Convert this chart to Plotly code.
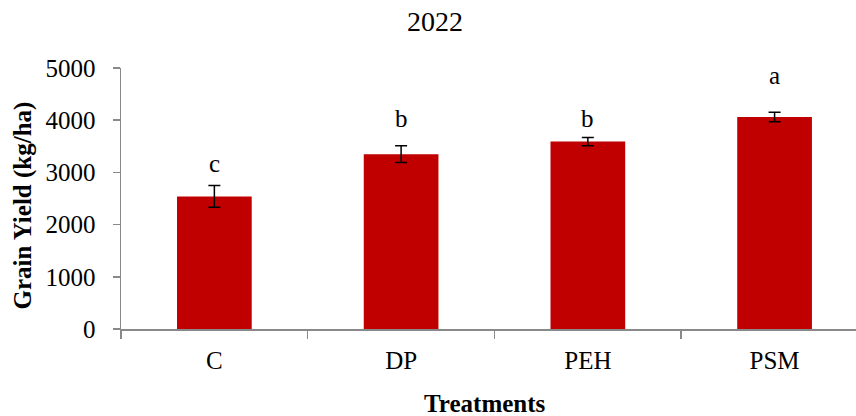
import plotly.graph_objects as go

categories = ["C", "DP", "PEH", "PSM"]
yields = [2540, 3350, 3590, 4060]
errors = [210, 160, 80, 90]
letters = ["c", "b", "b", "a"]
letter_y = [3180, 4040, 4040, 4850]
y_ticks = [0, 1000, 2000, 3000, 4000, 5000]

FONT = "Liberation Serif, Times New Roman, serif"
AXIS_GRAY = "#898989"

L, R, T, B = 121, 0, 68, 87
W, H = 856, 416
PW, PH = W - L - R, H - T - B

fig = go.Figure()
fig.add_trace(go.Bar(
    x=categories,
    y=yields,
    width=0.4,
    marker=dict(color="#C00000", line=dict(width=0)),
    error_y=dict(type="data", array=errors, visible=True, color="black",
                 thickness=1.5, width=6),
))

for cat, lt, ly in zip(categories, letters, letter_y):
    fig.add_annotation(x=cat, y=ly, text=lt, showarrow=False,
                       font=dict(family=FONT, size=25, color="black"))

# axis titles
fig.add_annotation(xref="paper", yref="paper",
                   x=(484.5 - L) / PW, y=(T + PH - 403) / PH,
                   text="<b>Treatments</b>", showarrow=False,
                   xanchor="center", yanchor="middle",
                   font=dict(family=FONT, size=25, color="black"))
fig.add_annotation(xref="paper", yref="paper",
                   x=(22 - L) / PW, y=(T + PH - 205.5) / PH,
                   text="<b>Grain Yield (kg/ha)</b>", showarrow=False,
                   textangle=-90, xanchor="center", yanchor="middle",
                   font=dict(family=FONT, size=25, color="black"))

fig.update_layout(
    width=W, height=H,
    margin=dict(l=L, r=R, t=T, b=B, autoexpand=False),
    paper_bgcolor="white", plot_bgcolor="white",
    showlegend=False,
    font=dict(family=FONT, size=25, color="black"),
    title=dict(text="2022", x=435 / W, xanchor="center", y=1 - 21 / H,
               yanchor="middle", font=dict(family=FONT, size=28, color="black")),
    xaxis=dict(
        range=[-0.5, 3.436],
        automargin=False,
        showline=True, linecolor=AXIS_GRAY, linewidth=1.5,
        ticks="outside", tickson="boundaries", ticklen=8, tickcolor=AXIS_GRAY,
        tickwidth=1.5, ticklabelstandoff=8,
        tickfont=dict(family=FONT, size=25, color="black"),
        showgrid=False, zeroline=False,
    ),
    yaxis=dict(
        range=[0, 5000],
        automargin=False,
        tickvals=y_ticks,
        showline=True, linecolor=AXIS_GRAY, linewidth=1.5,
        ticks="outside", ticklen=7, tickcolor=AXIS_GRAY, tickwidth=1.5,
        ticklabelstandoff=12,
        tickfont=dict(family=FONT, size=25, color="black"),
        showgrid=False, zeroline=False,
    ),
)

fig.write_html("out.html",
               config={"displayModeBar": False, "staticPlot": True},
               post_script="document.body.style.margin='0';document.body.style.overflow='hidden';")
